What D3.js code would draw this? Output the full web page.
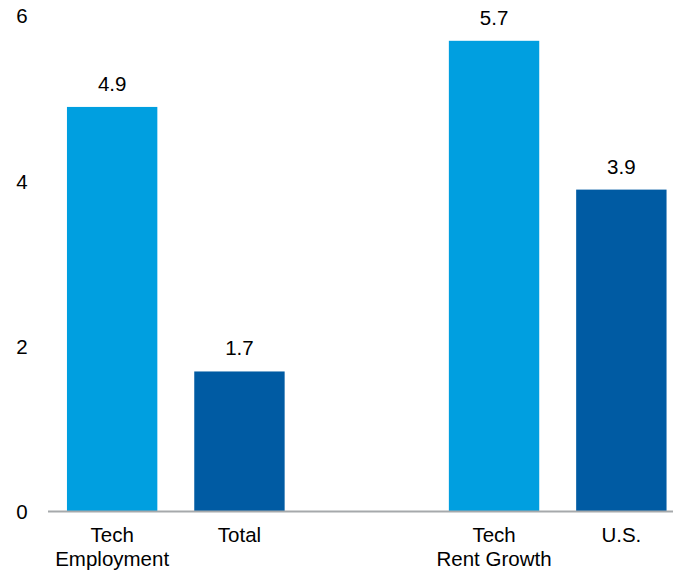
<!DOCTYPE html>
<html>
<head>
<meta charset="utf-8">
<script src="https://cdn.jsdelivr.net/npm/d3@7"></script>
<style>
  html, body { margin: 0; padding: 0; background: #fff; }
  svg { display: block; font-family: "Liberation Sans", Arial, sans-serif; }
</style>
</head>
<body>
<svg id="chart" width="673" height="571"></svg>
<script>
// Categories (an empty slot separates the two groups)
const categories = ["emp-tech", "emp-total", "gap", "rent-tech", "rent-us"];
const categoryLabels = [["Tech", "Employment"], ["Total"], [], ["Tech", "Rent Growth"], ["U.S."]];
const values = [4.9, 1.7, null, 5.7, 3.9];
const valueLabels = ["4.9", "1.7", "", "5.7", "3.9"];
const barColors = ["#009FE0", "#005BA3", null, "#009FE0", "#005BA3"];
const yTicks = [0, 2, 4, 6];

const FONT = 20.5;
const svg = d3.select("#chart");

const x = d3.scaleBand()
  .domain(categories)
  .range([48.5, 685])
  .paddingInner(0.29)
  .paddingOuter(0.145);

const y = d3.scaleLinear()
  .domain([0, 6])
  .range([512, 16]);

// Y tick labels (no axis line)
svg.append("g")
  .selectAll("text")
  .data(yTicks)
  .join("text")
  .attr("x", 22)
  .attr("y", d => y(d))
  .attr("dy", "0.36em")
  .attr("text-anchor", "middle")
  .attr("font-size", FONT)
  .attr("fill", "#000")
  .text(d => d);

const rows = categories.map((c, i) => ({
  key: c, value: values[i], label: valueLabels[i], color: barColors[i], cat: categoryLabels[i]
}));

// Bars
svg.append("g")
  .selectAll("rect")
  .data(rows.filter(d => d.value != null))
  .join("rect")
  .attr("x", d => x(d.key))
  .attr("width", x.bandwidth())
  .attr("y", d => y(d.value))
  .attr("height", d => y(0) - y(d.value))
  .attr("fill", d => d.color);

// Baseline
svg.append("line")
  .attr("x1", 48)
  .attr("x2", 673)
  .attr("y1", y(0) - 0.5)
  .attr("y2", y(0) - 0.5)
  .attr("stroke", "#A6A9AB")
  .attr("stroke-width", 2);

// Value labels
svg.append("g")
  .selectAll("text")
  .data(rows.filter(d => d.value != null))
  .join("text")
  .attr("x", d => x(d.key) + x.bandwidth() / 2)
  .attr("y", d => y(d.value) - 16)
  .attr("text-anchor", "middle")
  .attr("font-size", FONT)
  .attr("fill", "#000")
  .text(d => d.label);

// Category labels
const cat = svg.append("g")
  .selectAll("text")
  .data(rows)
  .join("text")
  .attr("x", d => x(d.key) + x.bandwidth() / 2)
  .attr("y", 542)
  .attr("text-anchor", "middle")
  .attr("font-size", FONT)
  .attr("fill", "#000");

cat.selectAll("tspan")
  .data(d => d.cat.map(t => ({ t, cx: x(d.key) + x.bandwidth() / 2 })))
  .join("tspan")
  .attr("x", t => t.cx)
  .attr("dy", (t, i) => i === 0 ? 0 : 24)
  .text(t => t.t);
</script>
</body>
</html>
